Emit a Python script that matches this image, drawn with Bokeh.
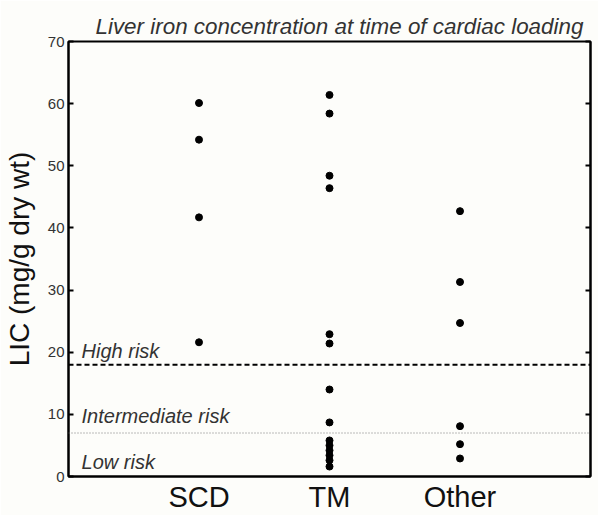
from bokeh.plotting import figure
from bokeh.models import Range1d, FixedTicker, LinearAxis, Span, ColumnDataSource
from bokeh.core.properties import value
from bokeh.embed import file_html
from bokeh.resources import INLINE

# ---- data ----
categories = ["SCD", "TM", "Other"]
scd_lic = [60.1, 54.2, 41.7, 21.6]
tm_lic = [61.4, 58.4, 48.4, 46.4, 22.9, 21.4, 14.0, 8.7, 5.8, 5.0, 4.2, 3.4, 2.6, 1.6]
other_lic = [42.7, 31.3, 24.7, 8.1, 5.2, 2.9]
y_ticks = [0, 10, 20, 30, 40, 50, 60, 70]
high_risk_threshold = 18
low_risk_threshold = 7
zone_labels = ["High risk", "Intermediate risk", "Low risk"]
zone_label_y = [20.2, 9.8, 2.4]

FONT = "Liberation Sans"
BG = "#fdfdfa"

p = figure(width=598, height=515, output_backend="svg", toolbar_location=None,
           x_range=Range1d(0, len(categories) + 1), y_range=Range1d(0, 70),
           min_border_left=67, min_border_right=8, min_border_top=41, min_border_bottom=39,
           background_fill_color=BG, border_fill_color=BG)

p.title.text = "Liver iron concentration at time of cardiac loading"
p.title.text_font = FONT
p.title.text_font_size = "22.4px"
p.title.text_font_style = "italic"
p.title.text_color = "#333333"
p.title.align = "left"
p.title.offset = 27
p.title.standoff = 6

p.xgrid.visible = False
p.ygrid.visible = False
p.outline_line_color = "black"
p.outline_line_width = 2

# x axis (categories)
xa = p.xaxis[0]
xa.ticker = FixedTicker(ticks=[i + 1 for i in range(len(categories))])
xa.major_label_overrides = {i + 1: c for i, c in enumerate(categories)}
xa.major_tick_in = 0
xa.major_tick_out = 0
xa.minor_tick_line_color = None
xa.axis_line_width = 2
xa.major_label_text_font = FONT
xa.major_label_text_font_size = "29px"
xa.major_label_text_color = "#111111"
xa.major_label_standoff = 4

# y axis
ya = p.yaxis[0]
ya.ticker = FixedTicker(ticks=y_ticks)
ya.major_tick_in = 5
ya.major_tick_out = 0
ya.minor_tick_line_color = None
ya.axis_line_width = 2
ya.major_tick_line_width = 2
ya.major_label_text_font = FONT
ya.major_label_text_font_size = "15px"
ya.major_label_text_color = "#333333"
ya.major_label_standoff = 4
ya.axis_label = "LIC (mg/g dry wt)"
ya.axis_label_text_font = FONT
ya.axis_label_text_font_size = "28px"
ya.axis_label_text_font_style = "normal"
ya.axis_label_text_color = "#111111"
ya.axis_label_standoff = 10

# right axis with ticks only
ra = LinearAxis(ticker=FixedTicker(ticks=y_ticks), major_label_text_color=None,
                major_label_text_font_size="1px",
                major_tick_in=5, major_tick_out=0, major_tick_line_width=2,
                minor_tick_line_color=None, axis_line_width=2, major_label_standoff=0)
p.add_layout(ra, "right")

# threshold lines
p.add_layout(Span(location=high_risk_threshold, dimension="width", line_color="black",
                  line_width=2, line_dash="5 3"))
p.add_layout(Span(location=low_risk_threshold, dimension="width", line_color="#7a7a7a",
                  line_width=1, line_dash="1 2"))

# zone labels
p.text(x=[0.1] * len(zone_labels), y=zone_label_y, text=zone_labels,
       text_font=value(FONT), text_font_style="italic", text_font_size="20px",
       text_color="#333333", text_baseline="alphabetic", text_align="left")

# points
xs, ys = [], []
for cat, vals in zip(categories, [scd_lic, tm_lic, other_lic]):
    xs += [categories.index(cat) + 1] * len(vals)
    ys += vals
src = ColumnDataSource(data=dict(x=xs, y=ys))
p.scatter("x", "y", source=src, size=7, color="black")

open("out.html", "w").write(file_html(p, INLINE))
